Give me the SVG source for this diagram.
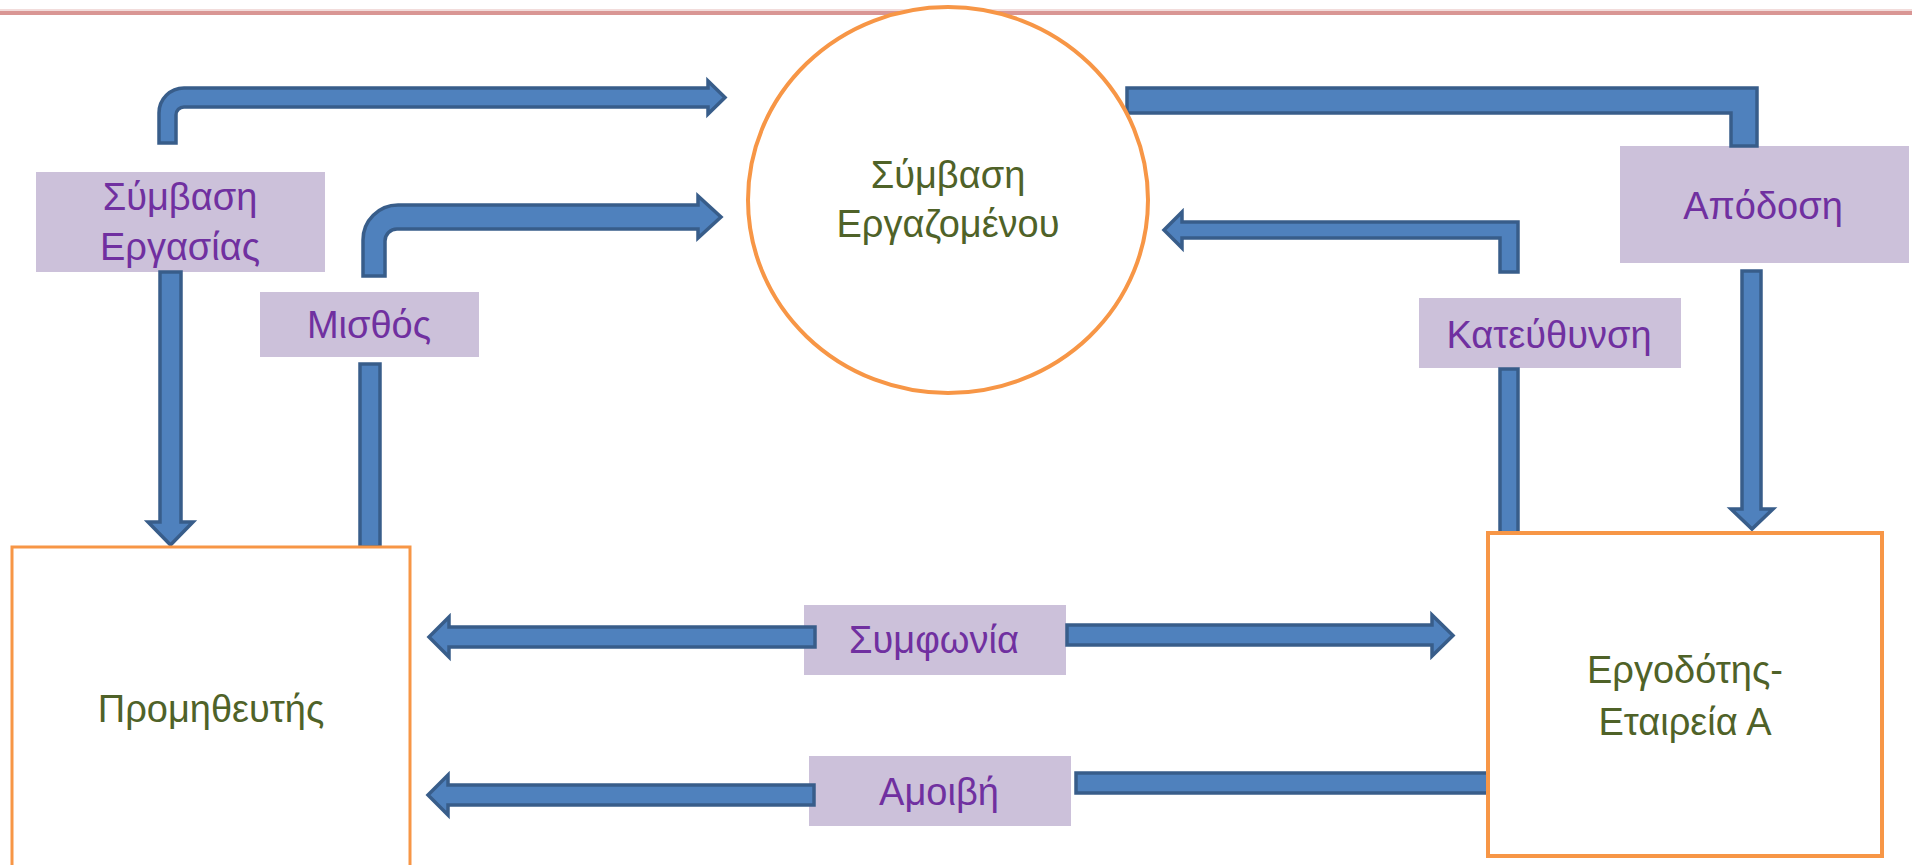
<svg xmlns="http://www.w3.org/2000/svg" width="1912" height="865" viewBox="0 0 1912 865">
<style>
.arrow{fill:#4F81BD;stroke:#385D8A;stroke-width:3.5;stroke-linejoin:miter}
.lbl{fill:#CCC1DA}
.lt{font-family:"Liberation Sans",Arial,sans-serif;font-size:38px;fill:#7030A0;text-anchor:middle}
.nt{font-family:"Liberation Sans",Arial,sans-serif;font-size:38px;fill:#4F6228;text-anchor:middle}
.node{fill:#FFFFFF;stroke:#F79646}
</style>
<rect x="0" y="0" width="1912" height="865" fill="#FFFFFF"/>
<rect x="0" y="9" width="1912" height="2" fill="#F2DCDB"/>
<rect x="0" y="11" width="1912" height="4" fill="#D99694"/>

<g id="labels">
  <g id="label-symvasi-ergasias">
    <rect class="lbl" x="36" y="172" width="289" height="100"/>
    <text class="lt" x="180" y="210">Σύμβαση</text>
    <text class="lt" x="180" y="260">Εργασίας</text>
  </g>
  <g id="label-misthos">
    <rect class="lbl" x="260" y="292" width="219" height="65"/>
    <text class="lt" x="369" y="338">Μισθός</text>
  </g>
  <g id="label-apodosi">
    <rect class="lbl" x="1620" y="146" width="289" height="117"/>
    <text class="lt" x="1763" y="219">Απόδοση</text>
  </g>
  <g id="label-katefthynsi">
    <rect class="lbl" x="1419" y="298" width="262" height="70"/>
    <text class="lt" x="1549" y="348">Κατεύθυνση</text>
  </g>
  <g id="label-symfonia">
    <rect class="lbl" x="804" y="605" width="262" height="70"/>
    <text class="lt" x="934" y="653">Συμφωνία</text>
  </g>
  <g id="label-amoivi">
    <rect class="lbl" x="809" y="756" width="262" height="70"/>
    <text class="lt" x="939" y="805">Αμοιβή</text>
  </g>
</g>

<g id="connectors">
  <path class="arrow" d="M159,143 V113 A25,25 0 0 1 184,88 H708 V81 L725,97.5 L708,114 V107 H184 A8,8 0 0 0 176,115 V143 Z"/>
  <path class="arrow" d="M363,276 V240 A35,35 0 0 1 398,205 H698 V196 L721,217 L698,238 V229 H397 A12,12 0 0 0 385,241 V276 Z"/>
  <path class="arrow" d="M160,272 H181 V522 H193 L170.5,545 L148,522 H160 Z"/>
  <path class="arrow" d="M360,364 H380 V547 H360 Z"/>
  <path class="arrow" d="M1127,88 H1757 V146 H1731 V113 H1127 Z"/>
  <path class="arrow" d="M1742,271 H1761 V509 H1773 L1752,529 L1731,509 H1742 Z"/>
  <path class="arrow" d="M1518,272 V222 H1182 V212 L1164,230 L1182,248 V238 H1500 V272 Z"/>
  <path class="arrow" d="M1500,369 H1518 V534 H1500 Z"/>
  <path class="arrow" d="M815,627 H449 V617 L429,637 L449,657 V647 H815 Z"/>
  <path class="arrow" d="M1067,625 H1432 V615 L1453,635.5 L1432,656 V645 H1067 Z"/>
  <path class="arrow" d="M814,785 H448 V775 L428,795 L448,815 V805 H814 Z"/>
  <path class="arrow" d="M1076,773 H1488 V793 H1076 Z"/>
</g>

<g id="node-symvasi-ergazomenou">
  <ellipse class="node" cx="948" cy="200" rx="200" ry="193" stroke-width="4"/>
  <text class="nt" x="948" y="188">Σύμβαση</text>
  <text class="nt" x="948" y="237">Εργαζομένου</text>
</g>
<g id="node-promitheftis">
  <rect class="node" x="12" y="547" width="398" height="340" stroke-width="3"/>
  <text class="nt" x="211" y="722">Προμηθευτής</text>
</g>
<g id="node-ergodotis">
  <rect class="node" x="1488" y="533" width="394" height="323" stroke-width="4"/>
  <text class="nt" x="1685" y="683">Εργοδότης-</text>
  <text class="nt" x="1685" y="735">Εταιρεία Α</text>
</g>
</svg>
